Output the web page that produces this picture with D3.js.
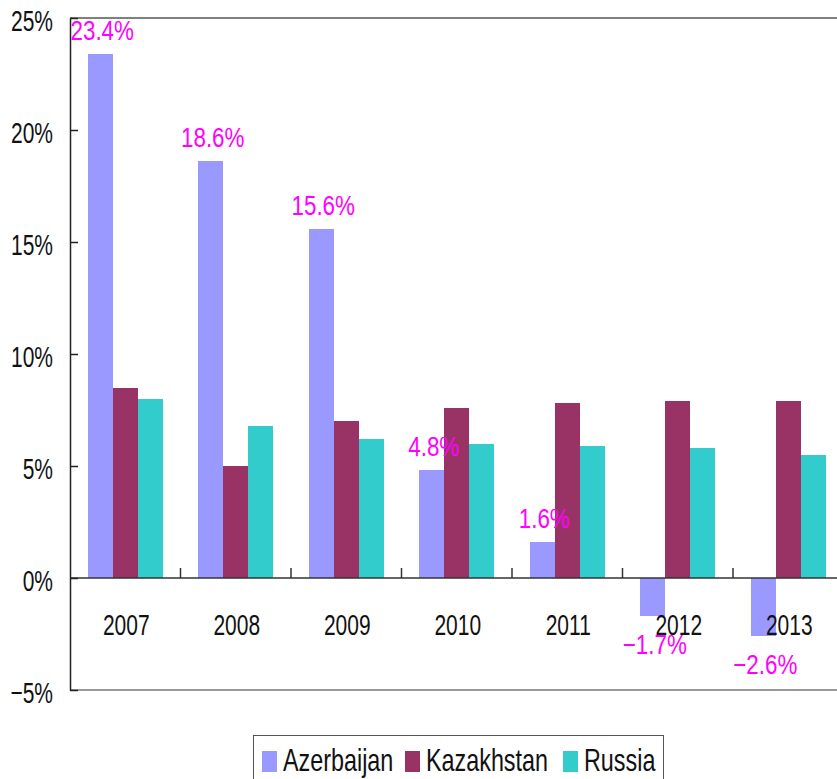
<!DOCTYPE html>
<html>
<head>
<meta charset="utf-8">
<script src="https://cdn.jsdelivr.net/npm/d3@7"></script>
<style>
  body { margin: 0; background: #fff; }
  svg { display: block; font-family: "Liberation Sans", Arial, sans-serif; }
</style>
</head>
<body>
<script>
// data
var years = ['2007', '2008', '2009', '2010', '2011', '2012', '2013'];
var seriesNames = ['Azerbaijan', 'Kazakhstan', 'Russia'];
var azerbaijan = [23.4, 18.6, 15.6, 4.8, 1.6, -1.7, -2.6];
var kazakhstan = [8.5, 5.0, 7.0, 7.6, 7.8, 7.9, 7.9];
var russia = [8.0, 6.8, 6.2, 6.0, 5.9, 5.8, 5.5];
var yTicks = [-5, 0, 5, 10, 15, 20, 25];

var colors = ['#9999ff', '#993366', '#33cccc'];
var seriesValues = [azerbaijan, kazakhstan, russia];

var width = 837, height = 779;
// note: "top" is a reserved window property, so use plot* names
var plotLeft = 70, plotRight = 843.5, plotTop = 18, plotBottom = 690;

var svg = d3.select('body').append('svg')
  .attr('width', width)
  .attr('height', height);

var x0 = d3.scaleBand()
  .domain(years)
  .range([plotLeft, plotRight])
  .paddingInner(0.321)
  .paddingOuter(0.1605);

var x1 = d3.scaleBand()
  .domain(seriesNames)
  .range([0, x0.bandwidth()]);

var y = d3.scaleLinear()
  .domain([-5, 25])
  .range([plotBottom, plotTop]);

function fmt(v) {
  return v.toFixed(1).replace('-', '\u2212') + '%';
}

// frame lines (top and bottom are grey)
svg.append('line')
  .attr('x1', plotLeft).attr('x2', width)
  .attr('y1', plotTop).attr('y2', plotTop)
  .attr('stroke', '#808080').attr('stroke-width', 2);
svg.append('line')
  .attr('x1', plotLeft).attr('x2', width)
  .attr('y1', plotBottom).attr('y2', plotBottom)
  .attr('stroke', '#999').attr('stroke-width', 2);

// bars
years.forEach(function(yr, i) {
  var g = svg.append('g').attr('transform', 'translate(' + x0(yr) + ',0)');
  seriesNames.forEach(function(s, j) {
    var v = seriesValues[j][i];
    g.append('rect')
      .attr('x', x1(s))
      .attr('width', x1.bandwidth())
      .attr('y', y(Math.max(0, v)))
      .attr('height', Math.abs(y(v) - y(0)))
      .attr('fill', colors[j])
      .attr('shape-rendering', 'crispEdges');
  });
});

// zero line
svg.append('line')
  .attr('x1', plotLeft).attr('x2', width)
  .attr('y1', y(0)).attr('y2', y(0))
  .attr('stroke', '#333').attr('stroke-width', 1.5);

// category boundary ticks, pointing up from zero line
d3.range(1, years.length + 1).forEach(function(k) {
  var xx = plotLeft + x0.step() * k;
  svg.append('line')
    .attr('x1', xx).attr('x2', xx)
    .attr('y1', y(0) - 10).attr('y2', y(0))
    .attr('stroke', '#333').attr('stroke-width', 1.5);
});

// y axis
var yAxis = d3.axisLeft(y)
  .tickValues(yTicks)
  .tickSizeInner(-8)
  .tickSizeOuter(0)
  .tickPadding(17)
  .tickFormat(function(d) { return String(d).replace('-', '\u2212') + '%'; });

var ga = svg.append('g')
  .attr('transform', 'translate(' + plotLeft + ',0)')
  .call(yAxis);
ga.select('.domain').attr('stroke', '#222').attr('stroke-width', 1.5);
ga.selectAll('.tick line').attr('stroke', '#222').attr('stroke-width', 1.5);
ga.selectAll('.tick text')
  .attr('x', 0)
  .attr('dy', '0.4em')
  .attr('transform', 'translate(-17,0) scale(0.7,1)')
  .attr('font-size', 30)
  .attr('font-family', '"Liberation Sans", Arial, sans-serif')
  .attr('fill', '#111');

// year labels
svg.selectAll('.year')
  .data(years)
  .enter().append('text')
  .attr('class', 'year')
  .attr('transform', function(d) {
    return 'translate(' + (x0(d) + x0.bandwidth() / 2 + 1) + ',635) scale(0.7,1)';
  })
  .attr('text-anchor', 'middle')
  .attr('font-size', 30)
  .attr('fill', '#111')
  .text(function(d) { return d; });

// Azerbaijan value labels
svg.selectAll('.vlab')
  .data(azerbaijan)
  .enter().append('text')
  .attr('class', 'vlab')
  .attr('transform', function(d, i) {
    var cx = x0(years[i]) + x1('Azerbaijan') + x1.bandwidth() / 2 + 2;
    var yy = d >= 0 ? y(d) - 14 : y(d) + 38;
    return 'translate(' + cx + ',' + yy + ') scale(0.8,1)';
  })
  .attr('text-anchor', 'middle')
  .attr('font-size', 28)
  .attr('fill', '#ff00ff')
  .text(function(d) { return fmt(d); });

// legend
var lg = svg.append('g');
lg.append('rect')
  .attr('x', 253.5).attr('y', 735.5)
  .attr('width', 410).attr('height', 60)
  .attr('fill', '#fff').attr('stroke', '#555').attr('stroke-width', 1);

var legendX = [262, 405, 563];
seriesNames.forEach(function(s, j) {
  lg.append('rect')
    .attr('x', legendX[j]).attr('y', 751)
    .attr('width', 15).attr('height', 21)
    .attr('fill', colors[j]);
  lg.append('text')
    .attr('transform', 'translate(' + (legendX[j] + 21) + ',771) scale(0.73,1)')
    .attr('font-size', 32)
    .attr('fill', '#111')
    .text(s);
});
</script>
</body>
</html>
